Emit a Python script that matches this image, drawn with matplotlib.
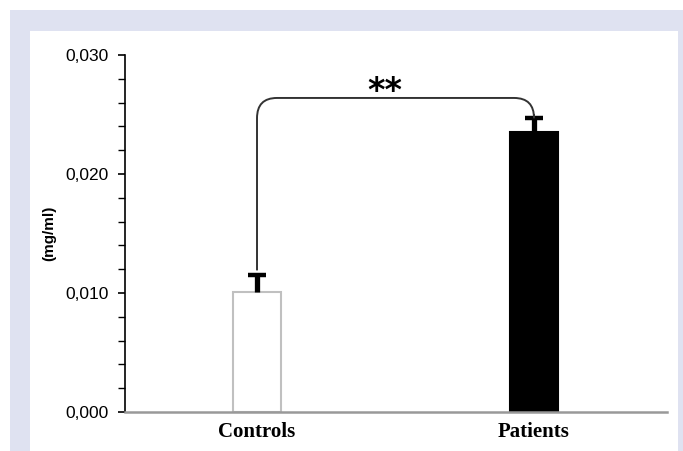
import matplotlib
matplotlib.use("Agg")
import matplotlib.pyplot as plt
from matplotlib.patches import Rectangle, PathPatch
from matplotlib.path import Path
from matplotlib.ticker import MultipleLocator, FuncFormatter

# data
groups = ["Controls", "Patients"]
means = [0.0101, 0.0235]
errs = [0.0014, 0.0012]
bar_faces = ["white", "black"]
bar_edges = ["#c0c0c0", "black"]
signif = "**"

W, H = 683, 451
fig = plt.figure(figsize=(W / 100, H / 100), dpi=100)
fig.patch.set_facecolor("white")

# lavender frame + white panel
fig.patches.append(Rectangle((10 / W, 0), 1, 1 - 10 / H, transform=fig.transFigure,
                             facecolor="#dfe2f1", edgecolor="none", zorder=-2))
fig.patches.append(Rectangle((30 / W, 0), (678 - 30) / W, 1 - 31 / H, transform=fig.transFigure,
                             facecolor="white", edgecolor="none", zorder=-1))

ax = fig.add_axes([125 / W, 1 - 412 / H, (667 - 125) / W, (412 - 55) / H])
ax.patch.set_alpha(0)

x = list(range(len(groups)))
ax.bar(x, means, width=0.17, color=bar_faces, edgecolor=bar_edges, linewidth=1.5, zorder=2)
# upper error bars only: stem + cap
tops = [m + e for m, e in zip(means, errs)]
ax.vlines(x, means, tops, color="black", linewidth=3.8, zorder=3)
ax.hlines(tops, [xi - 0.031 for xi in x], [xi + 0.031 for xi in x],
          color="black", linewidth=3.2, zorder=3)

ax.set_xlim(-0.4765, 1.48)
ax.set_ylim(0, 0.030)
ax.yaxis.set_major_locator(MultipleLocator(0.010))
ax.yaxis.set_minor_locator(MultipleLocator(0.002))
ax.yaxis.set_major_formatter(FuncFormatter(lambda v, p: f"{v:.3f}".replace(".", ",")))
ax.tick_params(axis="y", which="major", length=5, width=1.2, pad=7, labelsize=12.5)
ax.tick_params(axis="y", which="minor", length=5, width=1.0)
for lbl in ax.get_yticklabels():
    lbl.set_family("Liberation Sans")

ax.set_xticks(x)
ax.set_xticklabels(groups, family="Liberation Serif", fontweight="bold", fontsize=15)
ax.tick_params(axis="x", length=0, pad=7)

for s in ["top", "right"]:
    ax.spines[s].set_visible(False)
ax.spines["left"].set_linewidth(1.2)
ax.spines["bottom"].set_color("#999999")
ax.spines["bottom"].set_linewidth(1.8)

ax.set_ylabel("(mg/ml)", family="Liberation Sans", fontweight="bold", fontsize=11, labelpad=6)

# significance bracket with rounded corners
top = 0.02639
y0 = tops[0] + 0.0004
y1 = tops[1] + 0.0003
rx, ry = 0.072, 0.0017
verts = [(x[0], y0), (x[0], top - ry), (x[0], top), (x[0] + rx, top),
         (x[1] - rx, top), (x[1], top), (x[1], top - ry), (x[1], y1)]
codes = [Path.MOVETO, Path.LINETO, Path.CURVE3, Path.CURVE3,
         Path.LINETO, Path.CURVE3, Path.CURVE3, Path.LINETO]
ax.add_patch(PathPatch(Path(verts, codes), facecolor="none", edgecolor="#333333",
                       linewidth=1.4, zorder=4, clip_on=False))
ax.text(0.462, 0.0269, signif, ha="center", va="center", fontsize=24,
        fontweight="bold", family="DejaVu Sans")

fig.savefig("out.png", dpi=100)
